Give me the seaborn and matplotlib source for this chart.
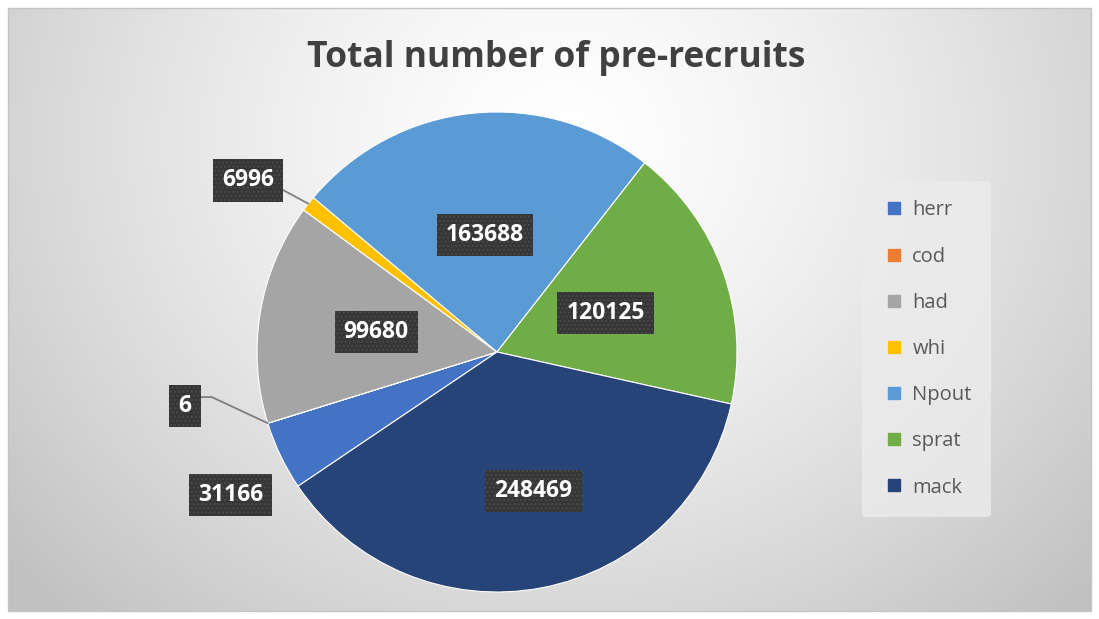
import numpy as np
import matplotlib
matplotlib.use("Agg")
import matplotlib.pyplot as plt
import seaborn as sns
from matplotlib.patches import Rectangle
from matplotlib.lines import Line2D

# Datos
especies = ['herr', 'cod', 'had', 'whi', 'Npout', 'sprat', 'mack']
valores = [31166, 6, 99680, 6996, 163688, 120125, 248469]
colores = ['#4472C4', '#ED7D31', '#A5A5A5', '#FFC000', '#5B9BD5', '#70AD47', '#264478']
titulo = 'Total number of pre-recruits'

# posición de las etiquetas (distancia radial y pequeño giro en grados)
dist_etiqueta = [1.26, 1.32, 0.51, 1.26, 0.49, 0.48, 0.60]
giro_etiqueta = [2.6, -7.4, 0, 3.6, 0, 0, 4]
con_linea = [False, True, False, True, False, False, False]
estilo_linea = [None, 'angle,angleA=0,angleB=-25,rad=0', None, 'arc3', None, None, None]
origen_linea = [None, (1, 0.88), None, (1, 0.3), None, None, None]

sns.set_theme(style='white')
plt.rcParams['font.family'] = ['Open Sans', 'DejaVu Sans']

W, H = 1099, 619
fig = plt.figure(figsize=(W / 100, H / 100), dpi=100)
fig.patch.set_facecolor('white')

# Fondo con degradado radial
bg = fig.add_axes([0, 0, 1, 1])
bg.set_xlim(0, W)
bg.set_ylim(H, 0)
bg.axis('off')
yy, xx = np.mgrid[8:611, 8:1091]
d = np.sqrt(((xx - 560) / 1.0) ** 2 + ((yy - 140) / 0.9) ** 2) / 720
d = np.clip(d, 0, 1)
gris = 1.0 - 0.24 * d ** 1.4
bg.imshow(np.dstack([gris, gris, gris]), extent=(8, 1091, 611, 8), aspect='auto', zorder=0)
bg.add_patch(Rectangle((8, 8), 1083, 603, fill=False, ec='#c4c4c4', lw=1, zorder=1))
bg.text(556, 58, titulo, ha='center', va='center', fontsize=25.5, fontweight='bold', color='#404040')

# Pastel
cx, cy, r = 497, 352, 240
lado = 520
ax = fig.add_axes([(cx - lado / 2) / W, (H - cy - lado / 2) / H, lado / W, lado / H])
ax.set_facecolor('none')
lim = lado / 2 / r
wedges, _ = ax.pie(valores, colors=colores, startangle=-146, counterclock=False,
                   radius=1, wedgeprops=dict(edgecolor='white', linewidth=0.8))
ax.set_xlim(-lim, lim)
ax.set_ylim(-lim, lim)
ax.set_aspect('equal')
ax.axis('off')

caja = dict(boxstyle='square,pad=0.4', fc='#363636', ec='#4a4a4a', hatch='....', lw=0)
for w, v, dist, giro, linea, est, orig in zip(wedges, valores, dist_etiqueta, giro_etiqueta,
                                              con_linea, estilo_linea, origen_linea):
    medio = np.deg2rad((w.theta1 + w.theta2) / 2)
    ang = medio + np.deg2rad(giro)
    tx, ty = dist * np.cos(ang), dist * np.sin(ang)
    if linea:
        ex, ey = np.cos(medio), np.sin(medio)
        ax.annotate(str(v), xy=(ex, ey), xytext=(tx, ty), ha='center', va='center',
                    fontsize=16.5, fontweight='bold', color='white', bbox=caja,
                    arrowprops=dict(arrowstyle='-', color='#7f7f7f', lw=1.3,
                                    connectionstyle=est, relpos=orig,
                                    shrinkA=0, shrinkB=0))
    else:
        ax.text(tx, ty, str(v), ha='center', va='center', fontsize=16.5,
                fontweight='bold', color='white', bbox=caja)

# Leyenda
handles = [Line2D([0], [0], marker='s', linestyle='', markersize=9,
                  markerfacecolor=c, markeredgecolor=c) for c in colores]
leg = fig.legend(handles, especies, loc='center left', bbox_to_anchor=(862 / W, 1 - 349 / H),
                 frameon=True, fontsize=14.5, labelspacing=1.3, handletextpad=0.25,
                 borderpad=0.95, handlelength=1.3, borderaxespad=0)
leg.get_frame().set_facecolor('#ececec')
leg.get_frame().set_edgecolor('none')
leg.get_frame().set_alpha(0.8)
for t in leg.get_texts():
    t.set_color('#595959')

fig.savefig('out.png', dpi=100)
plt.close()
